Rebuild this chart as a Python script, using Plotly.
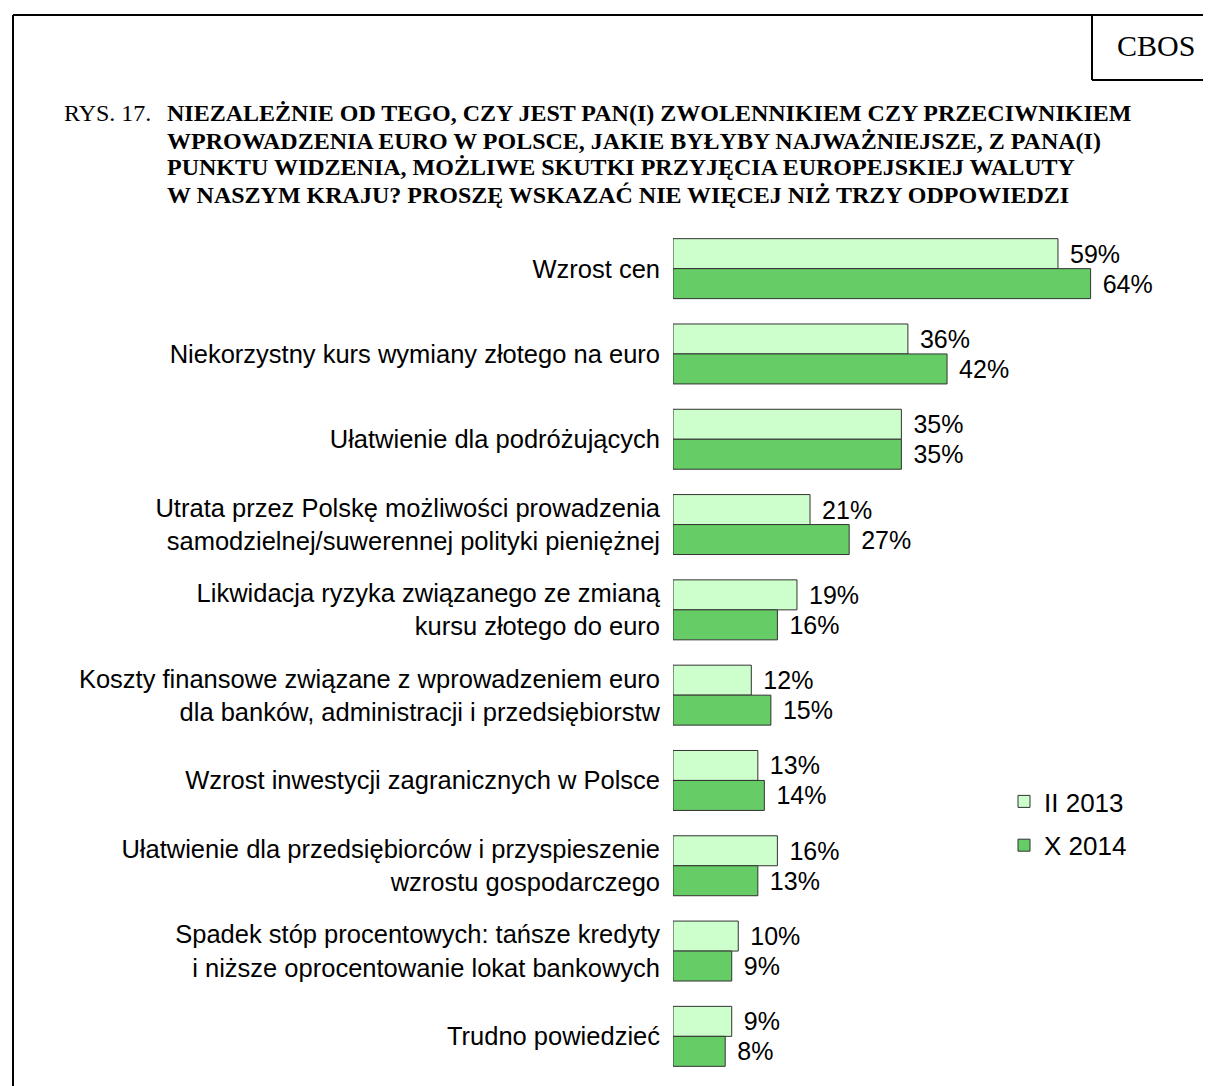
import plotly.graph_objects as go

categories = [
    "Wzrost cen",
    "Niekorzystny kurs wymiany złotego na euro",
    "Ułatwienie dla podróżujących",
    "Utrata przez Polskę możliwości prowadzenia<br>samodzielnej/suwerennej polityki pieniężnej",
    "Likwidacja ryzyka związanego ze zmianą<br>kursu złotego do euro",
    "Koszty finansowe związane z wprowadzeniem euro<br>dla banków, administracji i przedsiębiorstw",
    "Wzrost inwestycji zagranicznych w Polsce",
    "Ułatwienie dla przedsiębiorców i przyspieszenie<br>wzrostu gospodarczego",
    "Spadek stóp procentowych: tańsze kredyty<br>i niższe oprocentowanie lokat bankowych",
    "Trudno powiedzieć",
]
series_names = ["II 2013", "X 2014"]
values_2013 = [59, 36, 35, 21, 19, 12, 13, 16, 10, 9]
values_2014 = [64, 42, 35, 27, 16, 15, 14, 13, 9, 8]

title_prefix = "RYS. 17."
title_lines = [
    "NIEZALEŻNIE OD TEGO, CZY JEST PAN(I) ZWOLENNIKIEM CZY PRZECIWNIKIEM",
    "WPROWADZENIA EURO W POLSCE, JAKIE BYŁYBY NAJWAŻNIEJSZE, Z PANA(I)",
    "PUNKTU WIDZENIA, MOŻLIWE SKUTKI PRZYJĘCIA EUROPEJSKIEJ WALUTY",
    "W NASZYM KRAJU? PROSZĘ WSKAZAĆ NIE WIĘCEJ NIŻ TRZY ODPOWIEDZI",
]

# page has an 8px body margin: work in page pixels, convert to figure pixels
OFF = 8
W, H = 1211 - OFF, 1086 - OFF
L, R, T, B = 673 - OFF, 1161 - OFF, 226 - OFF, 1079 - OFF
XMAX = (R - L) / 6.525


def px(x):
    return (x - OFF - L) / (R - L)


def py(y):
    return (B - (y - OFF)) / (B - T)


colors = ["#CCFFCC", "#66CC66"]
sans = "Liberation Sans, Arial, sans-serif"
serif = "Liberation Serif, Times New Roman, serif"

fig = go.Figure()
for name, vals, col in zip(series_names, [values_2013, values_2014], colors):
    fig.add_trace(go.Bar(
        y=categories, x=vals, name=name, orientation="h", legendgroup=name,
        marker=dict(color=col, line=dict(color="#333333", width=1)),
        texttemplate="\u00a0\u200a%{x}%", textposition="outside",
        constraintext="none", cliponaxis=False,
        textfont=dict(family=sans, size=25, color="black"),
    ))

fig.update_layout(
    width=W, height=H,
    margin=dict(l=L, r=W - R, t=T, b=H - B, autoexpand=False),
    paper_bgcolor="white", plot_bgcolor="white",
    barmode="group", bargap=0.297, bargroupgap=0,
    showlegend=True,
    legend=dict(x=px(1004), y=py(778), xanchor="left", yanchor="top",
                font=dict(family=sans, size=26, color="black"),
                bgcolor="rgba(0,0,0,0)", tracegroupgap=7),
    xaxis=dict(range=[0, XMAX], visible=False, showgrid=False, zeroline=False),
    yaxis=dict(autorange="reversed", showgrid=False, showline=False,
               ticks="", ticklabelstandoff=12,
               tickfont=dict(family=sans, size=25.5, color="black")),
    font=dict(family=sans, color="black"),
)

# frame lines
line = dict(color="black", width=2)
shapes = [
    dict(type="line", xref="paper", yref="paper", x0=px(13), x1=px(13), y0=py(15), y1=py(1100), line=line),
    dict(type="line", xref="paper", yref="paper", x0=px(13), x1=px(1220), y0=py(15), y1=py(15), line=line),
    dict(type="line", xref="paper", yref="paper", x0=px(1092), x1=px(1092), y0=py(15), y1=py(80), line=line),
    dict(type="line", xref="paper", yref="paper", x0=px(1092), x1=px(1220), y0=py(80), y1=py(80), line=line),
]
fig.update_layout(shapes=shapes)

annotations = [
    dict(text="CBOS", x=px(1156), y=py(46), xref="paper", yref="paper",
         xanchor="center", yanchor="middle", showarrow=False,
         font=dict(family=serif, size=30, color="black")),
    dict(text=title_prefix, x=px(62), y=py(113), xref="paper", yref="paper",
         xanchor="left", yanchor="middle", showarrow=False,
         font=dict(family=serif, size=24, color="black")),
]
line_y = [113, 140.5, 167.5, 194.5]
for txt, yy in zip(title_lines, line_y):
    annotations.append(dict(
        text="<b>" + txt + "</b>", x=px(165), y=py(yy), xref="paper", yref="paper",
        xanchor="left", yanchor="middle", showarrow=False,
        font=dict(family=serif, size=24, color="black")))
fig.update_layout(annotations=annotations)

fig.write_html("out.html")
